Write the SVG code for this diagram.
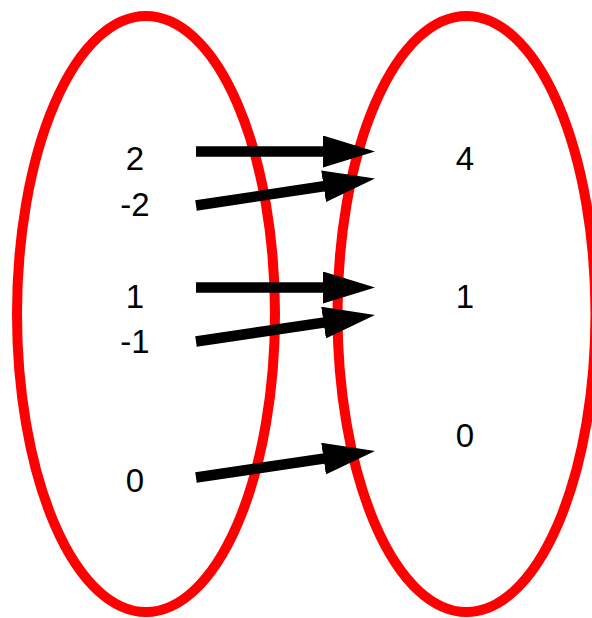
<svg xmlns="http://www.w3.org/2000/svg" width="592" height="618" viewBox="0 0 592 618">
<defs>
<style>
.set{fill:none;stroke:#ff0000;stroke-width:10}
.lbl{font-family:"Liberation Sans",Arial,sans-serif;font-size:33px;fill:#000;text-anchor:middle}
.arr{stroke:#000;stroke-width:10.5;fill:none;marker-end:url(#head)}
</style>
<marker id="head" markerUnits="userSpaceOnUse" viewBox="0 0 52 32" markerWidth="52" markerHeight="32" refX="22" refY="16" orient="auto">
<path d="M0,0 L52,16 L0,32 Z" fill="#000"/>
</marker>
</defs>
<rect width="592" height="618" fill="#fff"/>
<g id="domain">
<ellipse class="set" cx="146" cy="314" rx="129" ry="298"/>
<text class="lbl" x="135" y="169.5">2</text>
<text class="lbl" x="135" y="216">-2</text>
<text class="lbl" x="135" y="307.5">1</text>
<text class="lbl" x="135" y="353">-1</text>
<text class="lbl" x="135" y="492">0</text>
</g>
<g id="codomain">
<ellipse class="set" cx="466.5" cy="314" rx="129" ry="298"/>
<text class="lbl" x="465" y="170">4</text>
<text class="lbl" x="465" y="308">1</text>
<text class="lbl" x="465" y="447">0</text>
</g>
<g id="connectors">
<line class="arr" x1="196" y1="151.5" x2="345" y2="151.5"/>
<line class="arr" x1="196" y1="205.5" x2="345.33" y2="182.97"/>
<line class="arr" x1="196" y1="287.5" x2="345" y2="287.5"/>
<line class="arr" x1="196" y1="341.5" x2="345.32" y2="319.39"/>
<line class="arr" x1="196" y1="477.5" x2="345.32" y2="455.39"/>
</g>
</svg>
